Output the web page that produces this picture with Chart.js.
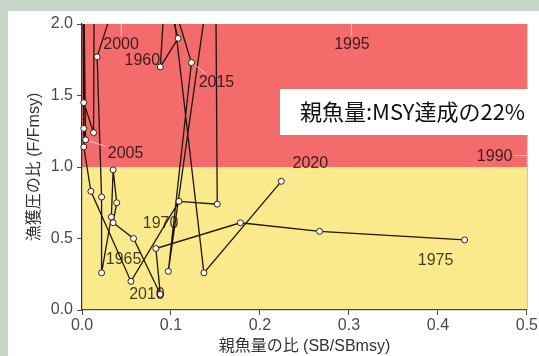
<!DOCTYPE html>
<html>
<head>
<meta charset="utf-8">
<script src="https://cdn.jsdelivr.net/npm/chart.js@4/dist/chart.umd.min.js"></script>
<style>
  html, body { margin: 0; padding: 0; background: #ffffff; }
  #wrap { width: 539px; height: 356px; }
</style>
</head>
<body>
<div id="wrap"><canvas id="kobe" width="539" height="356"></canvas></div>
<script>
// Stock trajectory: spawning biomass ratio (SB/SBmsy) against fishing pressure ratio (F/Fmsy).
// Years 1976-1989 sit far to the right of the plotted window and are not listed.
const earlyYears = [1958, 1959, 1960, 1961, 1962, 1963, 1964, 1965, 1966, 1967, 1968, 1969, 1970, 1971, 1972, 1973, 1974, 1975];
const earlySB    = [0.090, 0.094, 0.088, 0.108, 0.070, 0.017, 0.022, 0.022, 0.033, 0.035, 0.039, 0.035, 0.058, 0.088, 0.083, 0.178, 0.267, 0.430];
const earlyF     = [2.70, 2.30, 1.70, 1.90, 2.80, 1.77, 0.79, 0.26, 0.65, 0.98, 0.75, 0.61, 0.50, 0.11, 0.43, 0.61, 0.55, 0.49];

const lateYears = [1990, 1991, 1992, 1993, 1994, 1995, 1996, 1997, 1998, 1999, 2000, 2001, 2002, 2003, 2004, 2005,
                   2006, 2007, 2008, 2009, 2010, 2011, 2012, 2013, 2014, 2015, 2016, 2017, 2018, 2019, 2020];
const lateSB    = [0.620, 0.600, 0.520, 0.420, 0.350, 0.300, 0.210, 0.150, 0.100, 0.066, 0.045, 0.014, 0.013, 0.002, 0.001, 0.004,
                   0.002, 0.001, 0.002, 0.010, 0.055, 0.109, 0.152, 0.150, 0.097, 0.123, 0.095, 0.090, 0.098, 0.137, 0.224];
const lateF     = [1.08, 2.30, 2.90, 3.20, 2.80, 2.50, 3.00, 3.30, 2.90, 2.60, 2.40, 2.70, 1.24, 1.45, 2.80, 1.19,
                   1.27, 2.60, 1.14, 0.83, 0.20, 0.76, 0.74, 2.60, 0.27, 1.73, 2.30, 2.90, 2.35, 0.26, 0.90];

// Tick values on both axes
const xTicks = [0, 0.1, 0.2, 0.3, 0.4, 0.5];
const yTicks = [0, 0.5, 1.0, 1.5, 2.0];

// Years that carry a text label
const labelledYears = [1960, 1965, 1970, 1975, 1990, 1995, 2000, 2005, 2010, 2015, 2020];

// Label placement relative to the point (pixels) and whether a leader segment is drawn
const labelPlacement = {
  1960: { dx: -18, dy: -7,  leader: false },
  1965: { dx: 22,  dy: -14, leader: false },
  1970: { dx: 27,  dy: -16, leader: true },
  1975: { dx: -29, dy: 20,  leader: true },
  1990: { dx: -139, dy: 0,  leader: true },
  1995: { dx: 3,   dy: 91,  leader: true },
  2000: { dx: -1,  dy: 77,  leader: true },
  2005: { dx: 40,  dy: 13,  leader: true },
  2010: { dx: 16,  dy: 12,  leader: false },
  2015: { dx: 25,  dy: 19,  leader: true },
  2020: { dx: 29,  dy: -19, leader: true }
};

const statusText = '親魚量:MSY達成の22%';

const FONT = "'Liberation Sans', 'Noto Sans CJK JP', sans-serif";
const RED = '#f46b6b';
const YELLOW = '#fbea8c';

function toPoints(sb, f) {
  return sb.map((x, i) => ({ x: x, y: f[i] }));
}

const lineStyle = {
  showLine: true,
  borderColor: '#1e160e',
  borderWidth: 1.3,
  tension: 0,
  pointRadius: 3,
  pointHoverRadius: 3,
  pointBackgroundColor: '#ffffff',
  pointBorderColor: '#2a2218',
  pointBorderWidth: 1,
  clip: { left: 6, top: 0, right: 0, bottom: 6 }
};

// Frame, panel and the two status zones
const zonePlugin = {
  id: 'zones',
  beforeDraw(chart) {
    const { ctx, chartArea: a, scales } = chart;
    ctx.save();
    ctx.fillStyle = '#c6d9c9';
    ctx.fillRect(0, 0, chart.width, chart.height);
    ctx.fillStyle = '#ffffff';
    ctx.fillRect(8, 11, chart.width - 8, chart.height - 11);
    const yOne = scales.y.getPixelForValue(1);
    ctx.fillStyle = RED;
    ctx.fillRect(a.left, a.top, a.right - a.left, yOne - a.top);
    ctx.fillStyle = YELLOW;
    ctx.fillRect(a.left, yOne, a.right - a.left, a.bottom - yOne);
    ctx.strokeStyle = 'rgba(0,0,0,0.25)';
    ctx.lineWidth = 1;
    ctx.beginPath();
    ctx.moveTo(a.right + 0.5, a.top);
    ctx.lineTo(a.right + 0.5, a.bottom);
    ctx.stroke();
    ctx.restore();
  }
};

// Year labels with light leader segments, then the status note
const yearLabelPlugin = {
  id: 'yearLabels',
  afterDatasetsDraw(chart) {
    const { ctx, chartArea: a, scales } = chart;
    const allYears = earlyYears.concat(lateYears);
    const allSB = earlySB.concat(lateSB);
    const allF = earlyF.concat(lateF);
    ctx.save();
    ctx.font = '16px ' + FONT;
    const items = labelledYears.map(yr => {
      const i = allYears.indexOf(yr);
      const px = scales.x.getPixelForValue(allSB[i]);
      const py = scales.y.getPixelForValue(allF[i]);
      const p = labelPlacement[yr];
      const text = String(yr);
      const w = ctx.measureText(text).width;
      return { text, px, py, cx: px + p.dx, cy: py + p.dy, w, h: 12, leader: p.leader };
    });
    // leaders, kept inside the plotting area
    ctx.save();
    ctx.beginPath();
    ctx.rect(a.left, a.top, a.right - a.left, a.bottom - a.top);
    ctx.clip();
    ctx.strokeStyle = 'rgba(235,235,235,0.75)';
    ctx.lineWidth = 1;
    items.forEach(it => {
      if (!it.leader) return;
      const dx = it.px - it.cx, dy = it.py - it.cy;
      const sx = Math.abs(dx) > 0 ? (it.w / 2 + 2) / Math.abs(dx) : Infinity;
      const sy = Math.abs(dy) > 0 ? (it.h / 2 + 2) / Math.abs(dy) : Infinity;
      const s = Math.min(sx, sy, 1);
      const ex = it.cx + dx * s, ey = it.cy + dy * s;
      const len = Math.hypot(dx, dy);
      const shrink = Math.min(4, len) / len;
      ctx.beginPath();
      ctx.moveTo(ex, ey);
      ctx.lineTo(it.px - dx * shrink, it.py - dy * shrink);
      ctx.stroke();
    });
    ctx.restore();
    ctx.fillStyle = 'rgba(0,0,0,0.74)';
    ctx.textAlign = 'center';
    ctx.textBaseline = 'middle';
    items.forEach(it => ctx.fillText(it.text, it.cx, it.cy + 1));
    ctx.restore();
  },
  afterDraw(chart) {
    const { ctx } = chart;
    ctx.save();
    ctx.fillStyle = '#ffffff';
    ctx.fillRect(280, 89, chart.width - 280, 46);
    ctx.fillStyle = '#111111';
    ctx.font = "22px 'Noto Sans CJK JP', sans-serif";
    ctx.textAlign = 'left';
    ctx.textBaseline = 'middle';
    ctx.fillText(statusText, 300, 112);
    ctx.restore();
  }
};

const tickFont = { size: 16, family: FONT };
const titleFont = { size: 16, family: FONT };

new Chart(document.getElementById('kobe'), {
  type: 'scatter',
  data: {
    datasets: [
      Object.assign({ label: '1958-1975', data: toPoints(earlySB, earlyF) }, lineStyle),
      Object.assign({ label: '1990-2020', data: toPoints(lateSB, lateF) }, lineStyle)
    ]
  },
  options: {
    responsive: false,
    animation: false,
    devicePixelRatio: 1,
    events: [],
    layout: { padding: { top: 24, right: 7, left: 0, bottom: 0 } },
    plugins: { legend: { display: false }, tooltip: { enabled: false } },
    scales: {
      x: {
        type: 'linear', min: 0, max: 0.5,
        afterBuildTicks(s) { s.ticks = xTicks.map(v => ({ value: v })); },
        afterFit(s) { s.height = 46; },
        ticks: { callback: v => Number(v).toFixed(1), font: tickFont, color: '#4a4a4a', padding: 1, maxRotation: 0 },
        grid: { drawOnChartArea: false, drawTicks: true, tickLength: 5, color: '#4a4a4a' },
        border: { display: true, color: '#4a4a40', width: 1.2 },
        title: { display: true, text: '親魚量の比 (SB/SBmsy)', font: titleFont, color: '#333333', padding: { top: 0, bottom: 0 } }
      },
      y: {
        type: 'linear', min: 0, max: 2,
        afterBuildTicks(s) { s.ticks = yTicks.map(v => ({ value: v })); },
        afterFit(s) { s.width = 82; },
        ticks: { callback: v => Number(v).toFixed(1), font: tickFont, color: '#4a4a4a', padding: 4 },
        grid: { drawOnChartArea: false, drawTicks: true, tickLength: 5, color: '#4a4a4a' },
        border: { display: true, color: '#333333', width: 1.2 },
        title: { display: true, text: '漁獲圧の比 (F/Fmsy)', font: titleFont, color: '#333333', padding: { top: 25, bottom: 0 } }
      }
    }
  },
  plugins: [zonePlugin, yearLabelPlugin]
});
</script>
</body>
</html>
